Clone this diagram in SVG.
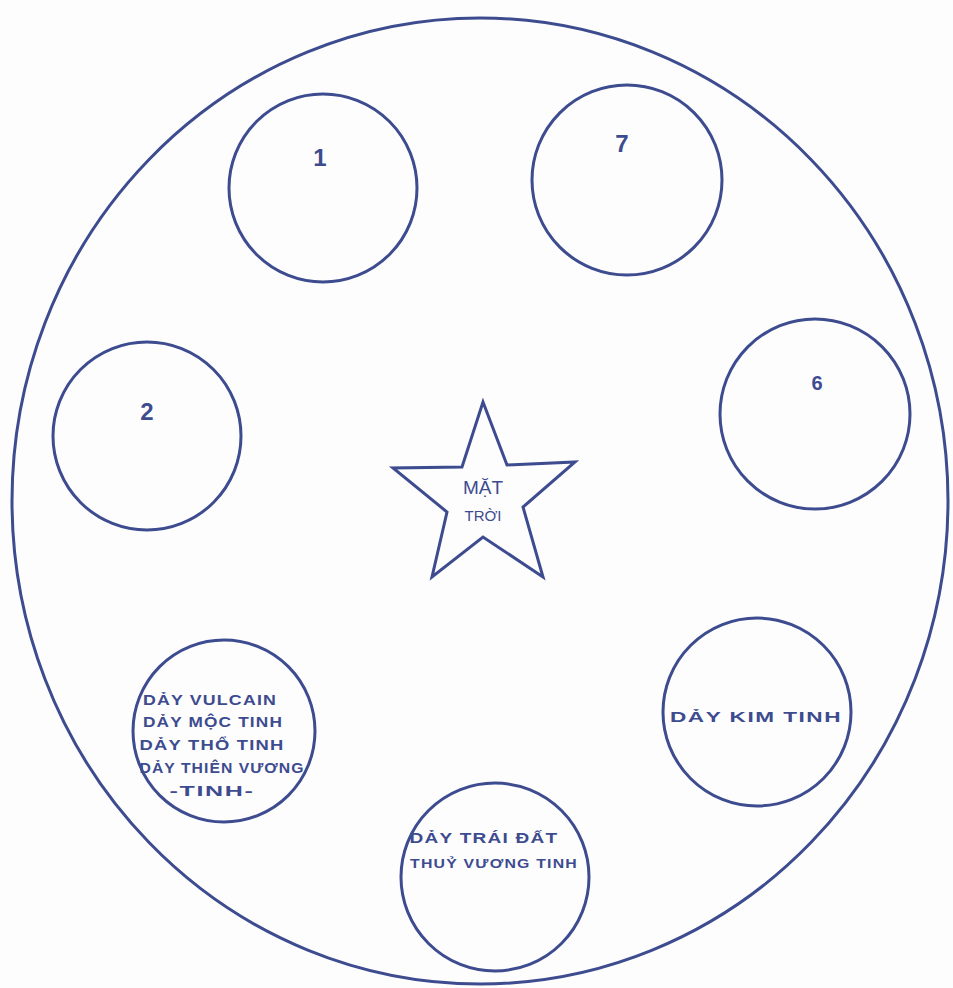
<svg xmlns="http://www.w3.org/2000/svg" width="953" height="988" viewBox="0 0 953 988">
<style>
.ln{fill:none;stroke:#3d4b8f;stroke-width:3}
.t{font-family:"Liberation Sans",Arial,sans-serif;font-weight:bold;fill:#3d4b8f;text-anchor:middle}
.n{font-size:24px}
.s{font-size:15px;letter-spacing:1px}
</style>
<rect width="953" height="988" fill="#fdfdfe"/>
<g id="outer"><ellipse class="ln" cx="480" cy="501" rx="468" ry="483"/></g>
<g id="c1"><circle class="ln" cx="323" cy="188" r="94"/><text class="t n" x="320" y="166">1</text></g>
<g id="c7"><circle class="ln" cx="627" cy="180" r="95"/><text class="t n" x="622" y="152">7</text></g>
<g id="c2"><circle class="ln" cx="147" cy="436" r="94"/><text class="t n" x="147" y="420">2</text></g>
<g id="c6"><circle class="ln" cx="815" cy="414" r="95"/><text class="t n" x="817" y="390" style="font-size:20px">6</text></g>
<g id="cvulcain"><circle class="ln" cx="224" cy="731" r="91"/>
<text class="t s" x="210" y="705" textLength="134" lengthAdjust="spacingAndGlyphs">DẢY VULCAIN</text>
<text class="t s" x="213" y="727" textLength="140" lengthAdjust="spacingAndGlyphs">DẢY MỘC TINH</text>
<text class="t s" x="212" y="750" textLength="145" lengthAdjust="spacingAndGlyphs">DẢY THỔ TINH</text>
<text class="t s" x="222" y="773" textLength="165" lengthAdjust="spacingAndGlyphs">DẢY THIÊN VƯƠNG</text>
<text class="t s" x="212" y="796" textLength="85" lengthAdjust="spacingAndGlyphs">-TINH-</text>
</g>
<g id="ctraidat"><circle class="ln" cx="495" cy="877" r="94"/>
<text class="t s" x="484" y="843" textLength="149" lengthAdjust="spacingAndGlyphs">DẢY TRÁI ĐẤT</text>
<text class="t s" x="494" y="868" textLength="168" lengthAdjust="spacingAndGlyphs" style="font-size:13px">THUỶ VƯƠNG TINH</text>
</g>
<g id="ckim"><circle class="ln" cx="757" cy="712" r="94"/>
<text class="t s" x="756" y="722" textLength="172" lengthAdjust="spacingAndGlyphs">DẢY KIM TINH</text>
</g>
<g id="sun"><polygon class="ln" points="483,402 507,465 575,462 523,507 543,577 483,537 432,577 447,512 393,468 462,467"/>
<text class="t" x="483" y="494" style="font-size:19px;font-weight:normal">MẶT</text>
<text class="t" x="483" y="521" style="font-size:15px;font-weight:normal">TRỜI</text>
</g>
<g id="connectors"></g>
</svg>
